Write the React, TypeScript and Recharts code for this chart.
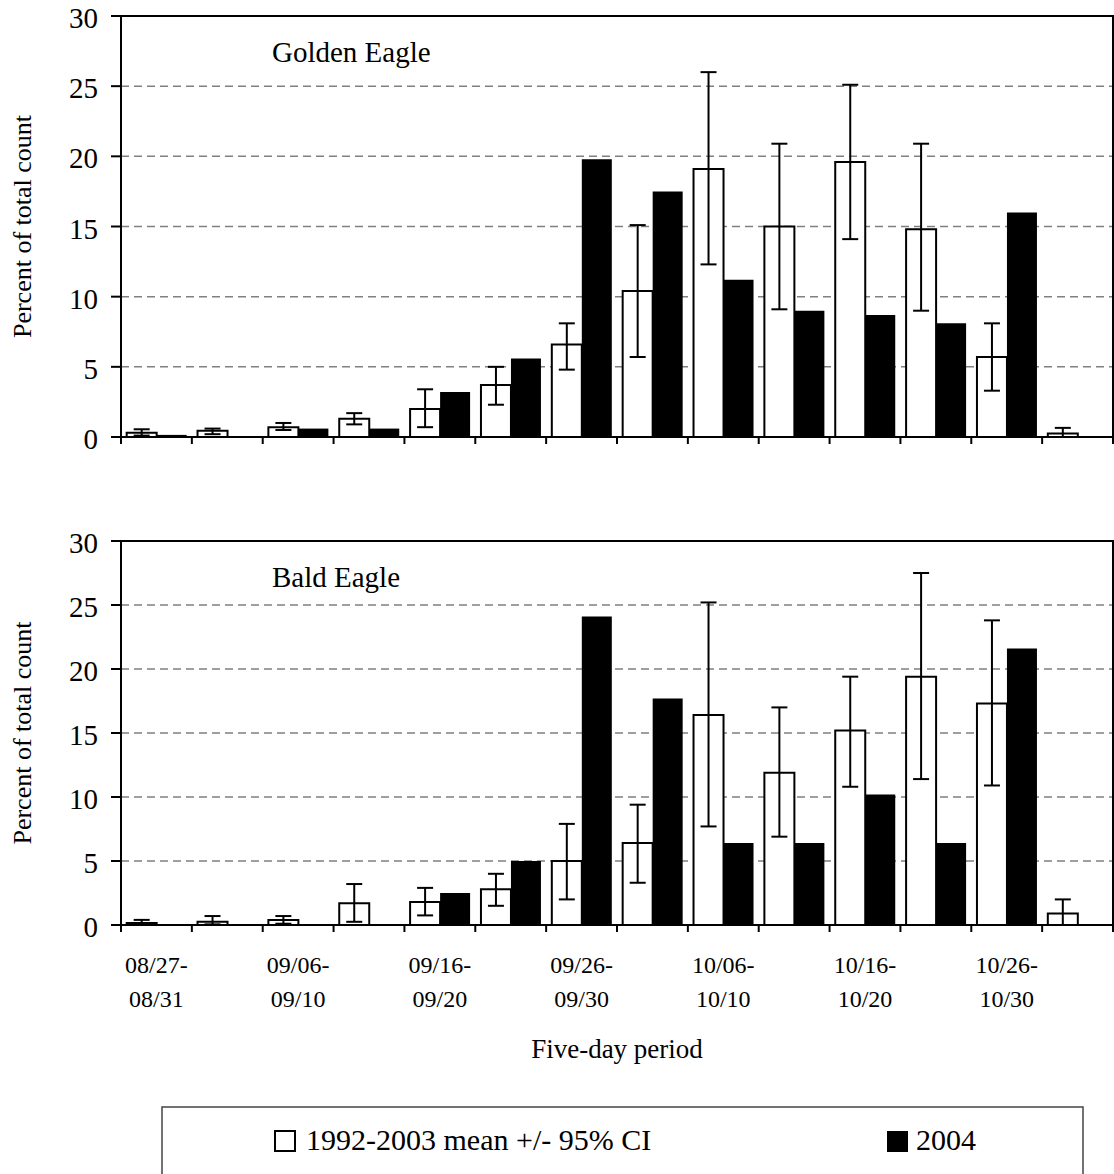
import React from 'react';
import { BarChart, Bar, XAxis, YAxis, CartesianGrid, ErrorBar, ReferenceArea } from 'recharts';

// five-day periods, start / end dates
const periodStart = ['08/27', '09/01', '09/06', '09/11', '09/16', '09/21', '09/26', '10/01', '10/06', '10/11', '10/16', '10/21', '10/26', '10/31'];
const periodEnd = ['08/31', '09/05', '09/10', '09/15', '09/20', '09/25', '09/30', '10/05', '10/10', '10/15', '10/20', '10/25', '10/30', '11/04'];

// Golden Eagle: 1992-2003 mean with 95% CI, and 2004
const goldenMean = [0.3, 0.45, 0.7, 1.3, 2.0, 3.7, 6.6, 10.4, 19.1, 15.0, 19.6, 14.8, 5.7, 0.25];
const goldenCiLow = [0.1, 0.2, 0.5, 0.9, 0.7, 2.3, 4.8, 5.7, 12.3, 9.1, 14.1, 9.0, 3.3, 0];
const goldenCiHigh = [0.55, 0.6, 1.0, 1.7, 3.4, 5.0, 8.1, 15.1, 26.0, 20.9, 25.1, 20.9, 8.1, 0.65];
const golden2004 = [0.15, 0, 0.6, 0.6, 3.2, 5.6, 19.8, 17.5, 11.2, 9.0, 8.7, 8.1, 16.0, 0];

// Bald Eagle
const baldMean = [0.15, 0.25, 0.4, 1.7, 1.8, 2.8, 5.0, 6.4, 16.4, 11.9, 15.2, 19.4, 17.3, 0.9];
const baldCiLow = [0, 0.05, 0.1, 0.25, 0.75, 1.5, 2.0, 3.3, 7.7, 6.9, 10.8, 11.4, 10.9, 0];
const baldCiHigh = [0.4, 0.7, 0.7, 3.2, 2.9, 4.0, 7.9, 9.4, 25.2, 17.0, 19.4, 27.5, 23.8, 2.0];
const bald2004 = [0, 0, 0, 0, 2.5, 5.0, 24.1, 17.7, 6.4, 6.4, 10.2, 6.4, 21.6, 0];

const yTicks = [0, 5, 10, 15, 20, 25, 30];

const FONT = "'Liberation Serif', 'Times New Roman', serif";
const CHART_W = 1114;
const Y_AXIS_W = 121;
const PLOT_W = CHART_W - Y_AXIS_W - 1;
const BAND = PLOT_W / periodStart.length;

function buildRows(mean: number[], lo: number[], hi: number[], current: number[]) {
  return periodStart.map((s, i) => ({
    name: `${s}-${periodEnd[i]}`,
    mean: mean[i],
    ci: [mean[i] - lo[i], hi[i] - mean[i]],
    current: current[i],
  }));
}

const goldenRows = buildRows(goldenMean, goldenCiLow, goldenCiHigh, golden2004);
const baldRows = buildRows(baldMean, baldCiLow, baldCiHigh, bald2004);

// tick marks sit on the category boundaries, labels on every other period
const PeriodTick = (props: any) => {
  const { x, y, index, showLabels } = props;
  const half = BAND / 2;
  const last = index === periodStart.length - 1;
  return (
    <g>
      <line x1={x - half} y1={y} x2={x - half} y2={y + 7} stroke="#000" strokeWidth={2} />
      {last && <line x1={x + half} y1={y} x2={x + half} y2={y + 7} stroke="#000" strokeWidth={2} />}
      {showLabels && index % 2 === 0 && (
        <text textAnchor="middle" fontSize={24} style={{ fontFamily: FONT }} fill="#000">
          <tspan x={x} y={y + 48}>{periodStart[index]}-</tspan>
          <tspan x={x} y={y + 82}>{periodEnd[index]}</tspan>
        </text>
      )}
    </g>
  );
};

const ValueTick = (props: any) => {
  const { x, y, payload } = props;
  return (
    <text x={x} y={y + 12} textAnchor="end" fontSize={29} style={{ fontFamily: FONT }} fill="#000">
      {payload.value}
    </text>
  );
};

const YTitle = ({ viewBox }: any) => {
  const cx = viewBox.x + 22;
  const cy = viewBox.y + viewBox.height / 2;
  return (
    <text x={cx} y={cy} transform={`rotate(-90 ${cx} ${cy})`} textAnchor="middle" dominantBaseline="central"
      fontSize={26} style={{ fontFamily: FONT }} fill="#000">
      Percent of total count
    </text>
  );
};

const XTitle = ({ viewBox }: any) => (
  <text x={viewBox.x + viewBox.width / 2} y={viewBox.y + 133} textAnchor="middle" fontSize={27}
    style={{ fontFamily: FONT }} fill="#000">
    Five-day period
  </text>
);

function EaglePanel({ rows, height, axisHeight, showLabels }: any) {
  return (
    <BarChart width={CHART_W} height={height} data={rows} margin={{ top: 16, right: 1, bottom: 0, left: 0 }}
      barCategoryGap="8%" barGap={0}>
      <CartesianGrid vertical={false} stroke="#808080" strokeWidth={1.5} strokeDasharray="8 5" />
      <XAxis dataKey="name" height={axisHeight} interval={0} tickLine={false} tickSize={0} tickMargin={0}
        axisLine={{ stroke: '#000', strokeWidth: 2 }}
        tick={<PeriodTick showLabels={showLabels} />}
        label={showLabels ? <XTitle /> : undefined} />
      <YAxis width={Y_AXIS_W} domain={[0, 30]} ticks={yTicks} interval={0} tickSize={10} tickMargin={13}
        axisLine={{ stroke: '#000', strokeWidth: 2 }} tickLine={{ stroke: '#000', strokeWidth: 2 }}
        tick={<ValueTick />} label={<YTitle />} />
      <ReferenceArea y1={0} y2={30} fill="none" stroke="#000" strokeWidth={2} />
      <Bar dataKey="mean" fill="#fff" stroke="#000" strokeWidth={2} isAnimationActive={false}>
        <ErrorBar dataKey="ci" width={8} stroke="#000" strokeWidth={2} direction="y" isAnimationActive={false} />
      </Bar>
      <Bar dataKey="current" fill="#000" isAnimationActive={false} />
    </BarChart>
  );
}

export default function App() {
  return (
    <div style={{ position: 'absolute', left: 0, top: 0, width: 1114, height: 1174, background: '#fff',
      overflow: 'hidden', fontFamily: FONT }}>
      <div style={{ position: 'absolute', left: 0, top: 0 }}>
        <EaglePanel rows={goldenRows} height={460} axisHeight={23} showLabels={false} />
      </div>
      <div style={{ position: 'absolute', left: 0, top: 525 }}>
        <EaglePanel rows={baldRows} height={550} axisHeight={150} showLabels />
      </div>
      <svg width={1114} height={1174} style={{ position: 'absolute', left: 0, top: 0, pointerEvents: 'none', fontFamily: FONT }}>
        <text x={272} y={62} fontSize={29} fill="#000">Golden Eagle</text>
        <text x={272} y={587} fontSize={29} fill="#000">Bald Eagle</text>
        <rect x={162} y={1107} width={921} height={80} fill="none" stroke="#444" strokeWidth={1.5} />
        <rect x={275} y={1131} width={20} height={20} fill="#fff" stroke="#000" strokeWidth={2} />
        <text x={306} y={1150} fontSize={30} fill="#000">1992-2003 mean +/- 95% CI</text>
        <rect x={887} y={1131} width={21} height={21} fill="#000" />
        <text x={916} y={1150} fontSize={30} fill="#000">2004</text>
      </svg>
    </div>
  );
}
